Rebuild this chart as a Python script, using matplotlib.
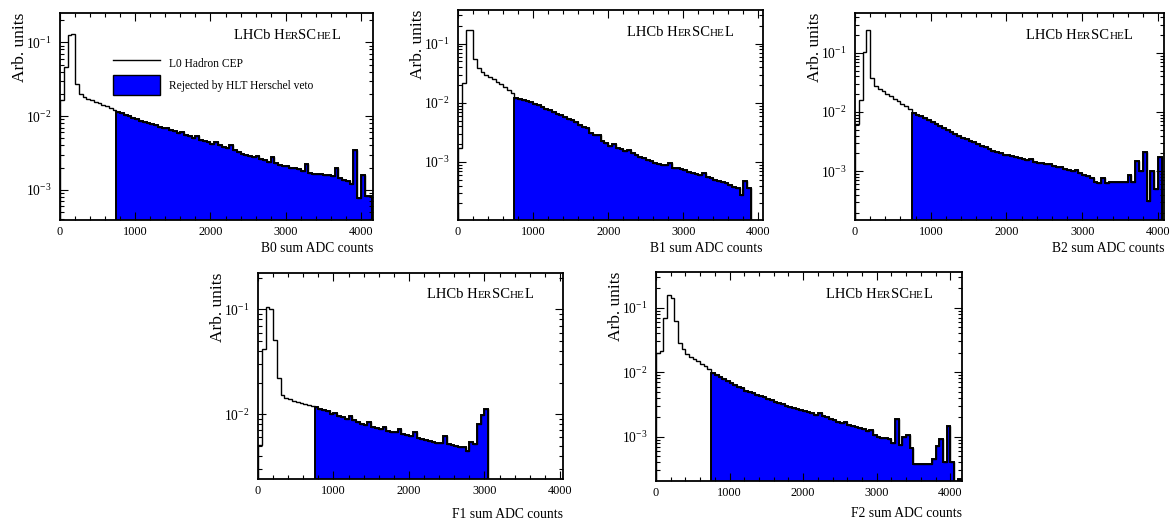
import numpy as np
import matplotlib
matplotlib.use('Agg')
import matplotlib.pyplot as plt
from matplotlib.ticker import MultipleLocator, LogLocator, LogFormatterMathtext, NullFormatter
from matplotlib.lines import Line2D
from matplotlib.patches import Patch
from matplotlib.offsetbox import TextArea, HPacker, AnchoredOffsetbox

plt.rcParams['font.family'] = ['Liberation Serif', 'DejaVu Serif']
plt.rcParams['mathtext.fontset'] = 'custom'
plt.rcParams['mathtext.rm'] = 'Liberation Serif'
plt.rcParams['mathtext.it'] = 'Liberation Serif:italic'

# histogram binning (ADC counts) and veto threshold
BIN_WIDTH = 50
CUT = 750

# normalised sum-ADC spectra, one value per 50-count bin starting at 0
b0 = [0.0165, 0.047, 0.124, 0.130, 0.027, 0.0197,
      0.0182, 0.0173, 0.0165, 0.0157, 0.0150, 0.0143, 0.0136, 0.0129, 0.0122,
      0.0114, 0.0110, 0.0104, 0.0099, 0.0094,
      0.0090, 0.0087, 0.0084, 0.0081, 0.0078, 0.0075, 0.0072, 0.0069, 0.0070, 0.0065,
      0.0062, 0.0059, 0.0061, 0.0056, 0.0053, 0.0051, 0.0053, 0.0048, 0.0046, 0.0044,
      0.0042, 0.0045, 0.0040, 0.0038, 0.0037, 0.0040, 0.0035, 0.0033, 0.0031, 0.0030,
      0.0029, 0.0028, 0.0029, 0.0026, 0.0025, 0.0024, 0.0028, 0.0023, 0.0022, 0.0021,
      0.0021, 0.0020, 0.00195, 0.0019, 0.0018, 0.00225, 0.00168, 0.00166, 0.00164, 0.00162,
      0.0016, 0.00158, 0.00156, 0.0020, 0.00145, 0.00138, 0.0013, 0.0012, 0.0035, 0.00077,
      0.0016, 0.00082, 0.00082]

b1 = [0.0017, 0.022, 0.168, 0.168, 0.055, 0.039,
      0.033, 0.030, 0.027, 0.025, 0.0227, 0.0206, 0.0187, 0.0168, 0.0148,
      0.0123, 0.0117, 0.0112, 0.0107, 0.0102,
      0.0097, 0.0091, 0.0085, 0.0079, 0.0075, 0.0071, 0.0066, 0.0062, 0.0058, 0.0054,
      0.0052, 0.0047, 0.0043, 0.0039, 0.0037, 0.0031, 0.0029, 0.0029, 0.0023, 0.0021,
      0.0019, 0.0020, 0.00175, 0.00165, 0.00155, 0.0016, 0.0014, 0.00132, 0.00124, 0.00116,
      0.0011, 0.00104, 0.00097, 0.00092, 0.0009, 0.00088, 0.00095, 0.0008, 0.00078, 0.00075,
      0.00072, 0.00068, 0.00065, 0.00062, 0.0006, 0.00066, 0.00055, 0.00053, 0.0005, 0.00048,
      0.00046, 0.00044, 0.00041, 0.00038, 0.00036, 0.000275, 0.00047, 0.00037]

b2 = [0.0062, 0.0158, 0.103, 0.245, 0.037, 0.028,
      0.0248, 0.0225, 0.0204, 0.0185, 0.0168, 0.0153, 0.0139, 0.0126, 0.0114,
      0.0097, 0.0090, 0.0084, 0.0078, 0.0073,
      0.0068, 0.0063, 0.0058, 0.0054, 0.0049, 0.0046, 0.0043, 0.0040, 0.0037, 0.0035,
      0.0033, 0.0031, 0.0029, 0.0027, 0.0026, 0.0024, 0.0022, 0.0021, 0.0020, 0.0019,
      0.00185, 0.0018, 0.00174, 0.0017, 0.0016, 0.00155, 0.0016, 0.00145, 0.0014, 0.00135,
      0.0013, 0.0013, 0.00122, 0.00118, 0.0012, 0.0011, 0.00105, 0.0010, 0.00105, 0.00092,
      0.00088, 0.00082, 0.00076, 0.00066, 0.00064, 0.00078, 0.00063, 0.00065, 0.00065, 0.00066,
      0.00066, 0.00066, 0.00088, 0.00065, 0.00147, 0.0010, 0.0021, 0.00031, 0.0010, 0.0005,
      0.00175]

f1 = [0.0051, 0.042, 0.105, 0.100, 0.051, 0.022,
      0.0152, 0.0141, 0.0138, 0.0134, 0.0131, 0.0128, 0.0125, 0.0122, 0.0119,
      0.0117, 0.0112, 0.0110, 0.0106, 0.0101,
      0.0103, 0.0095, 0.0093, 0.0090, 0.0096, 0.0087, 0.0084, 0.0081, 0.0079, 0.0084,
      0.0076, 0.0074, 0.0072, 0.0076, 0.0069, 0.0068, 0.0067, 0.0072, 0.0064, 0.0063,
      0.0062, 0.0068, 0.0059, 0.0058, 0.0056, 0.0055, 0.0054, 0.0053, 0.0053, 0.0062,
      0.0052, 0.0051, 0.0050, 0.0049, 0.0048, 0.0044, 0.0054, 0.0052, 0.0081, 0.0098,
      0.0113]

f2 = [0.020, 0.021, 0.069, 0.156, 0.139, 0.063,
      0.028, 0.0226, 0.019, 0.0172, 0.0158, 0.0148, 0.0136, 0.0125, 0.0112,
      0.0098, 0.0090, 0.0084, 0.0078, 0.0073,
      0.0068, 0.0064, 0.0060, 0.0056, 0.0052, 0.0049, 0.0047, 0.0045, 0.0043, 0.0041,
      0.0039, 0.0037, 0.0035, 0.0033, 0.0032, 0.0030, 0.0029, 0.0028, 0.0027, 0.0026,
      0.0025, 0.0024, 0.0023, 0.00215, 0.0023, 0.0021, 0.0020, 0.0019, 0.00182, 0.00172,
      0.00165, 0.0017, 0.00152, 0.00146, 0.0014, 0.00138, 0.00133, 0.00122, 0.00128, 0.00108,
      0.00098, 0.00095, 0.00094, 0.00092, 0.00079, 0.00186, 0.00074, 0.0010, 0.00106, 0.00066,
      0.00038, 0.00038, 0.00038, 0.00038, 0.00038, 0.00045, 0.00072, 0.00092, 0.0004, 0.00147,
      0.0004, 0.0, 0.00022]

W, H = 1175, 520
fig = plt.figure(figsize=(W / 100, H / 100), dpi=100)


def add_axes_px(x0, y0, x1, y1):
    return fig.add_axes([x0 / W, 1 - y1 / H, (x1 - x0) / W, (y1 - y0) / H])


def lhcb_label(ax, x, y, size=10.5):
    # "LHCb Herschel" with small capitals, glued together on one baseline
    parts = [('LHCb H', 1.0), ('ER', 0.76), ('SC', 1.0), ('HE', 0.76), ('L', 1.0)]
    boxes = [TextArea(s, textprops=dict(fontsize=size * f)) for s, f in parts]
    pack = HPacker(children=boxes, align='baseline', pad=0, sep=0)
    box = AnchoredOffsetbox(loc='upper left', child=pack, frameon=False, pad=0,
                            borderpad=0, bbox_to_anchor=(x, y),
                            bbox_transform=ax.transAxes)
    ax.add_artist(box)


def draw_panel(ax, values, name, xlim, ylim, xpad=3):
    values = np.asarray(values, dtype=float)
    edges = np.arange(len(values) + 1) * BIN_WIDTH
    floor = ylim[0] * 1e-3
    vals = np.where(values > 0, values, floor)
    k = int(CUT / BIN_WIDTH)

    ax.stairs(vals[k:], edges[k:], baseline=floor, fill=True, color='#0000ff', lw=0)
    ax.stairs(vals, edges, baseline=floor, color='black', lw=1.0)
    ax.stairs(vals[k:], edges[k:], baseline=floor, color='black', lw=1.4)

    ax.set_yscale('log')
    ax.set_xlim(*xlim)
    ax.set_ylim(*ylim)
    ax.xaxis.set_major_locator(MultipleLocator(1000))
    ax.xaxis.set_minor_locator(MultipleLocator(200))
    ax.yaxis.set_major_locator(LogLocator(base=10))
    ax.yaxis.set_minor_locator(LogLocator(base=10, subs=np.arange(2, 10)))
    ax.yaxis.set_major_formatter(LogFormatterMathtext())
    ax.yaxis.set_minor_formatter(NullFormatter())
    ax.tick_params(which='both', direction='in', top=True, right=True, width=0.8)
    ax.tick_params(which='major', length=5.5)
    ax.tick_params(which='minor', length=2.8)
    ax.tick_params(axis='x', pad=4, labelsize=8.8)
    ax.tick_params(axis='y', pad=6, labelsize=9.8)
    for sp in ax.spines.values():
        sp.set_linewidth(1.3)

    ax.set_xlabel(name + ' sum ADC counts', loc='right', fontsize=9.8, labelpad=xpad)
    ax.set_ylabel('Arb. units', loc='top', fontsize=12.5, labelpad=-1)
    lhcb_label(ax, 0.555, 0.925)


ax_b0 = add_axes_px(60, 13, 373, 220)
draw_panel(ax_b0, b0, 'B0', (0, 4160), (3.9e-4, 0.25))
ax_b1 = add_axes_px(458, 10, 763, 220)
draw_panel(ax_b1, b1, 'B1', (0, 4060), (1.05e-4, 0.37))
ax_b2 = add_axes_px(855, 13, 1164, 220)
draw_panel(ax_b2, b2, 'B2', (0, 4080), (1.5e-4, 0.47))
ax_f1 = add_axes_px(258, 273, 563, 479)
draw_panel(ax_f1, f1, 'F1', (0, 4040), (2.4e-3, 0.222), xpad=8)
ax_f2 = add_axes_px(656, 272, 962, 481)
draw_panel(ax_f2, f2, 'F2', (0, 4160), (2.06e-4, 0.357), xpad=6)

handles = [Line2D([], [], color='black', lw=1.0),
           Patch(facecolor='#0000ff', edgecolor='black', lw=1.0)]
ax_b0.legend(handles, ['L0 Hadron CEP', 'Rejected by HLT Herschel veto'],
             loc='upper left', bbox_to_anchor=(113 / W, 1 - 53 / H),
             bbox_transform=fig.transFigure, frameon=False, fontsize=8.3,
             handlelength=4.1, handleheight=2.3, handletextpad=0.8,
             labelspacing=0.2, borderpad=0, borderaxespad=0)

fig.savefig('out.png', dpi=100)
